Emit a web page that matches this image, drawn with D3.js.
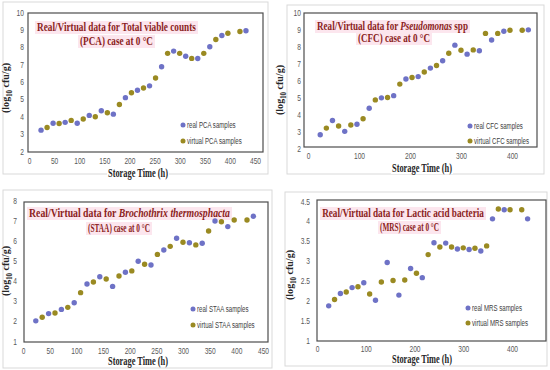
<!DOCTYPE html>
<html>
<head>
<meta charset="utf-8">
<script src="https://cdn.jsdelivr.net/npm/d3@7"></script>
<style>
  body { margin: 0; background: #fff; }
  svg { display: block; }
</style>
</head>
<body>
<div id="chart"></div>
<script>
// sampling times (h)
const realTimes = [24, 48, 72, 96, 120, 144, 168, 192, 216, 240, 264, 288, 312, 336, 360, 384, 432];
const virtualTimes = [36, 60, 84, 108, 132, 156, 180, 204, 228, 252, 276, 300, 324, 348, 372, 396, 420];

// log10 cfu/g
const pcaReal = [3.2, 3.6, 3.65, 3.6, 4.05, 4.32, 4.12, 5.07, 5.5, 5.75, 6.85, 7.75, 7.45, 7.32, 8.0, 8.65, 8.92];
const pcaVirtual = [3.35, 3.58, 3.76, 3.84, 3.97, 4.2, 4.68, 5.35, 5.63, 6.2, 7.62, 7.62, 7.33, 7.62, 8.42, 8.78, 8.88];
const cfcReal = [2.78, 3.62, 2.98, 3.4, 4.34, 4.95, 5.08, 6.06, 6.2, 6.7, 7.13, 8.05, 7.52, 7.72, 8.35, 8.87, 8.95];
const cfcVirtual = [3.17, 3.29, 3.35, 3.72, 4.83, 4.97, 5.76, 6.15, 6.47, 6.85, 7.57, 7.75, 7.77, 8.74, 8.74, 8.93, 8.93];
const staaReal = [2.0, 2.36, 2.57, 2.9, 3.83, 4.19, 3.71, 4.41, 4.96, 4.77, 5.52, 6.1, 5.88, 5.85, 6.96, 6.68, 7.19];
const staaVirtual = [2.18, 2.39, 2.67, 3.4, 3.93, 4.08, 4.23, 4.48, 4.81, 5.3, 5.7, 5.9, 5.77, 6.46, 6.92, 7.01, 7.01];
const mrsReal = [1.86, 2.17, 2.32, 2.44, 2.0, 2.95, 2.13, 2.8, 2.57, 3.45, 3.44, 3.29, 3.28, 3.24, 4.05, 4.28, 4.05];
const mrsVirtual = [2.02, 2.21, 2.34, 2.16, 2.46, 2.5, 2.51, 2.68, 3.15, 3.34, 3.34, 3.32, 3.31, 3.37, 4.3, 4.28, 4.28];

// tick labels
const ticks50 = [0, 50, 100, 150, 200, 250, 300, 350, 400, 450];
const ticks100 = [0, 100, 200, 300, 400];
const ticksY2to10 = [2, 3, 4, 5, 6, 7, 8, 9, 10];
const ticksY1to8 = [1, 2, 3, 4, 5, 6, 7, 8];
const ticksY1to45 = [1, 1.5, 2, 2.5, 3, 3.5, 4, 4.5];

const realColor = "#6e72c6";
const virtualColor = "#9a8a22";
const titleColor = "#8b1e22";
const squeeze = 0.7; // the picture is narrowed sideways, so text is too

const svg = d3
  .select("#chart")
  .append("svg")
  .attr("width", 550)
  .attr("height", 370);

function drawPanel(p) {
  const g = svg.append("g");

  // light outer border
  g.append("rect")
    .attr("x", p.box[0])
    .attr("y", p.box[1])
    .attr("width", p.box[2] - p.box[0])
    .attr("height", p.box[3] - p.box[1])
    .attr("fill", "#fff")
    .attr("stroke", "#d9d9d9");

  const x = d3.scaleLinear().domain(p.xDomain).range(p.xRange);
  const y = d3.scaleLinear().domain(p.yDomain).range(p.yRange);

  // plot area frame
  g.append("rect")
    .attr("x", p.frame[0])
    .attr("y", p.frame[1])
    .attr("width", p.frame[2] - p.frame[0])
    .attr("height", p.frame[3] - p.frame[1])
    .attr("fill", "none")
    .attr("stroke", "#4d4d4d")
    .attr("stroke-width", 1.2);

  // axes (labels only)
  const yAxis = g
    .append("g")
    .attr("transform", `translate(${p.frame[0]},0)`)
    .call(
      d3.axisLeft(y).tickValues(p.yTicks).tickSize(0)
        .tickPadding(p.yPad / squeeze).tickFormat(d3.format("~g"))
    );
  const xAxis = g
    .append("g")
    .attr("transform", `translate(0,${p.frame[3]})`)
    .call(
      d3.axisBottom(x).tickValues(p.xTicks).tickSize(0)
        .tickPadding(p.xPad).tickFormat(d3.format("~g"))
    );
  [yAxis, xAxis].forEach((a) => {
    a.select(".domain").remove();
    a.selectAll("text")
      .attr("transform", `scale(${squeeze},1)`)
      .style("font-family", "'Liberation Sans', Arial, sans-serif")
      .style("font-size", "9.5px")
      .attr("fill", "#595959");
  });

  // title with its pink highlight, narrowed to the measured width
  p.title.forEach((line) => {
    g.append("rect")
      .attr("x", line.cx - line.len / 2 - 2)
      .attr("y", line.y - 10)
      .attr("width", line.len + 4)
      .attr("height", 13)
      .attr("fill", "#fce6ee");
    const t = g
      .append("text")
      .attr("text-anchor", "middle")
      .style("font-family", "'Liberation Serif', 'Times New Roman', serif")
      .style("font-weight", "bold")
      .style("font-size", "11.5px")
      .attr("fill", titleColor);
    line.segs.forEach((s) => {
      t.append("tspan")
        .style("font-style", s[1] ? "italic" : "normal")
        .text(s[0]);
    });
    const natural = t.node().getComputedTextLength();
    t.attr("transform", `translate(${line.cx},${line.y}) scale(${line.len / natural},1)`);
  });

  // y axis title
  const yl = g
    .append("text")
    .attr("transform", `translate(${p.ylab[0]},${p.ylab[1]}) rotate(-90)`)
    .attr("text-anchor", "middle")
    .attr("textLength", 50)
    .attr("lengthAdjust", "spacingAndGlyphs")
    .style("font-family", "'Liberation Serif', 'Times New Roman', serif")
    .style("font-weight", "bold")
    .style("font-size", "11px")
    .attr("fill", "#262626");
  yl.append("tspan").text("(log");
  yl.append("tspan").attr("dy", 3).style("font-size", "7.5px").text("10");
  yl.append("tspan").attr("dy", -3).text(" cfu/g)");

  // x axis title, on a thin white patch where it crosses the border
  g.append("rect")
    .attr("x", p.xlab[0] - 31)
    .attr("y", p.xlab[1] - 6)
    .attr("width", 62)
    .attr("height", 8)
    .attr("fill", "#fff");
  g.append("text")
    .attr("x", p.xlab[0])
    .attr("y", p.xlab[1])
    .attr("text-anchor", "middle")
    .attr("textLength", 60)
    .attr("lengthAdjust", "spacingAndGlyphs")
    .style("font-family", "'Liberation Serif', 'Times New Roman', serif")
    .style("font-weight", "bold")
    .style("font-size", "11.5px")
    .attr("fill", "#262626")
    .text("Storage Time (h)");

  // points
  const series = [
    { times: realTimes, values: p.real, color: realColor },
    { times: virtualTimes, values: p.virtual, color: virtualColor },
  ];
  series.forEach((s) => {
    g.append("g")
      .selectAll("circle")
      .data(s.values)
      .join("circle")
      .attr("cx", (d, i) => x(s.times[i]))
      .attr("cy", (d) => y(d))
      .attr("r", 2.7)
      .attr("fill", s.color);
  });

  // legend
  const leg = [
    { label: p.legend.real, color: realColor, y: p.legend.y1 },
    { label: p.legend.virt, color: virtualColor, y: p.legend.y2 },
  ];
  leg.forEach((l) => {
    g.append("circle")
      .attr("cx", p.legend.x)
      .attr("cy", l.y)
      .attr("r", 2.5)
      .attr("fill", l.color);
    g.append("text")
      .attr("transform", `translate(${p.legend.x + 4},${l.y + 3}) scale(0.68,1)`)
      .style("font-family", "'Liberation Sans', Arial, sans-serif")
      .style("font-size", "9px")
      .attr("fill", "#404040")
      .text(l.label);
  });
}

drawPanel({
  box: [3, 2, 268, 174],
  frame: [28, 13, 263, 152],
  xDomain: [0, 450], xRange: [29, 255], xTicks: ticks50, xPad: 5,
  yDomain: [2, 10], yRange: [151, 12], yTicks: ticksY2to10, yPad: 4,
  title: [
    { y: 31, cx: 116.5, len: 159, segs: [["Real/Virtual  data for Total viable counts", false]] },
    { y: 45, cx: 116.5, len: 73, segs: [["(PCA)  case at 0 °C", false]] },
  ],
  ylab: [9, 88], xlab: [138, 177],
  real: pcaReal, virtual: pcaVirtual,
  legend: { x: 183, y1: 125, y2: 141, real: "real PCA samples", virt: "virtual PCA samples" },
});

drawPanel({
  box: [287, 5, 544, 174],
  frame: [304, 13, 537, 147],
  xDomain: [0, 450], xRange: [308, 537.5], xTicks: ticks100, xPad: 5,
  yDomain: [2, 10], yRange: [148, 12], yTicks: ticksY2to10, yPad: 3,
  title: [
    { y: 30, cx: 392.5, len: 151, segs: [["Real/Virtual  data for ", false], ["Pseudomonas", true], [" spp", false]] },
    { y: 42, cx: 394, len: 72, segs: [["(CFC)  case at 0 °C", false]] },
  ],
  ylab: [283, 90], xlab: [422, 172],
  real: cfcReal, virtual: cfcVirtual,
  legend: { x: 470, y1: 126, y2: 141, real: "real CFC samples", virt: "virtual CFC samples" },
});

drawPanel({
  box: [3, 190, 272, 368],
  frame: [24, 202, 268, 342],
  xDomain: [0, 450], xRange: [23, 263], xTicks: ticks50, xPad: 5,
  yDomain: [1, 8], yRange: [341, 200], yTicks: ticksY1to8, yPad: 7,
  title: [
    { y: 217, cx: 129.5, len: 201, segs: [["Real/Virtual  data for ", false], ["Brochothrix thermosphacta", true]] },
    { y: 232, cx: 119, len: 62, segs: [["(STAA) case at 0 °C", false]] },
  ],
  ylab: [9, 271], xlab: [138, 365],
  real: staaReal, virtual: staaVirtual,
  legend: { x: 193, y1: 309, y2: 325, real: "real STAA samples", virt: "virtual STAA samples" },
});

drawPanel({
  box: [285, 192, 547, 366],
  frame: [317, 200, 546, 341],
  xDomain: [0, 400], xRange: [317, 512], xTicks: ticks100, xPad: 4,
  yDomain: [1, 4.5], yRange: [340, 201], yTicks: ticksY1to45, yPad: 7,
  title: [
    { y: 217, cx: 403, len: 162, segs: [["Real/Virtual  data for Lactic acid bacteria", false]] },
    { y: 231, cx: 409.5, len: 59, segs: [["(MRS) case at 0 °C", false]] },
  ],
  ylab: [293, 275], xlab: [422, 363],
  real: mrsReal, virtual: mrsVirtual,
  legend: { x: 468, y1: 308, y2: 323, real: "real MRS samples", virt: "virtual MRS samples" },
});
</script>
</body>
</html>
